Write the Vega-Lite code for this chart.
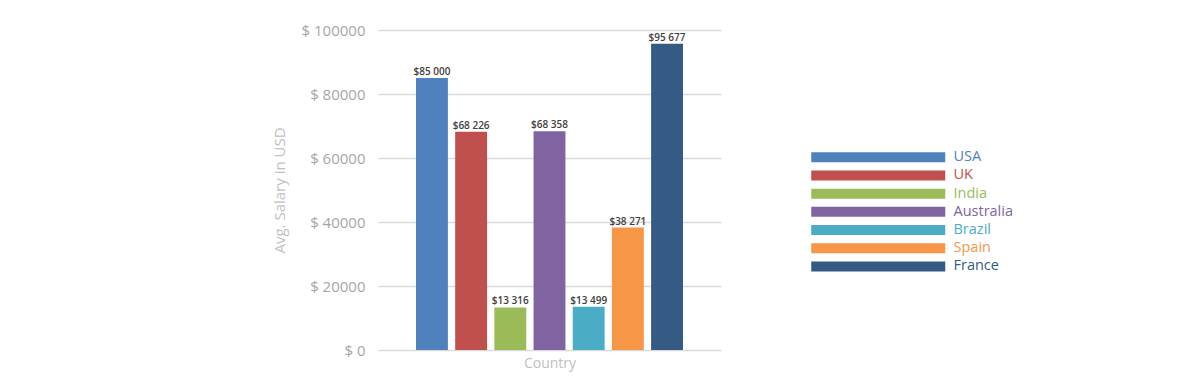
{
  "$schema": "https://vega.github.io/schema/vega-lite/v6.json",
  "autosize": {"type": "none"},
  "padding": {"left": 378, "top": 30, "right": 470, "bottom": 42},
  "width": 343,
  "height": 320,
  "config": {
    "font": "Open Sans",
    "view": {"stroke": null}
  },
  "data": {
    "values": [
      {"country": "USA", "salary": 85000, "label": "$85 000"},
      {"country": "UK", "salary": 68226, "label": "$68 226"},
      {"country": "India", "salary": 13316, "label": "$13 316"},
      {"country": "Australia", "salary": 68358, "label": "$68 358"},
      {"country": "Brazil", "salary": 13499, "label": "$13 499"},
      {"country": "Spain", "salary": 38271, "label": "$38 271"},
      {"country": "France", "salary": 95677, "label": "$95 677"}
    ]
  },
  "encoding": {
    "x": {
      "field": "country",
      "type": "nominal",
      "sort": null,
      "title": "Country",
      "scale": {"paddingInner": 0.186, "paddingOuter": 0.97},
      "axis": {
        "labels": false,
        "ticks": false,
        "domain": false,
        "titleColor": "#bfbfbf",
        "titleFontSize": 14,
        "titleFontWeight": "normal",
        "titlePadding": 6
      }
    },
    "y": {
      "field": "salary",
      "type": "quantitative",
      "title": "Avg. Salary in USD",
      "scale": {"domain": [0, 100000], "nice": false},
      "axis": {
        "values": [0, 20000, 40000, 60000, 80000, 100000],
        "labelExpr": "'$ ' + datum.value",
        "labelColor": "#a6a6a6",
        "labelFontSize": 15,
        "labelPadding": 13,
        "ticks": false,
        "domain": false,
        "gridColor": "#d9d9d9",
        "gridWidth": 1.5,
        "titleColor": "#bfbfbf",
        "titleFontSize": 15,
        "titleFontWeight": "normal",
        "titlePadding": 14
      }
    }
  },
  "layer": [
    {
      "mark": {"type": "bar"},
      "encoding": {
        "color": {
          "field": "country",
          "type": "nominal",
          "sort": null,
          "title": null,
          "scale": {
            "domain": ["USA", "UK", "India", "Australia", "Brazil", "Spain", "France"],
            "range": ["#4F81BD", "#C0504D", "#9BBB59", "#8064A2", "#4BACC6", "#F79646", "#355A84"]
          },
          "legend": {
            "orient": "none",
            "legendX": 426,
            "legendY": 120,
            "symbolType": "M0,-1H26.8V1H0Z",
            "symbolSize": 100,
            "symbolOpacity": 1,
            "symbolStrokeWidth": 0,
            "labelFontSize": 14.5,
            "labelOffset": 135,
            "rowPadding": 3.2,
            "encode": {
              "labels": {
                "update": {
                  "fill": {"scale": "color", "field": "value"}
                }
              }
            }
          }
        }
      }
    },
    {
      "mark": {"type": "text", "baseline": "bottom", "dy": -1, "fontSize": 10, "fontWeight": 600, "color": "#404040"},
      "encoding": {
        "text": {"field": "label"}
      }
    }
  ]
}
